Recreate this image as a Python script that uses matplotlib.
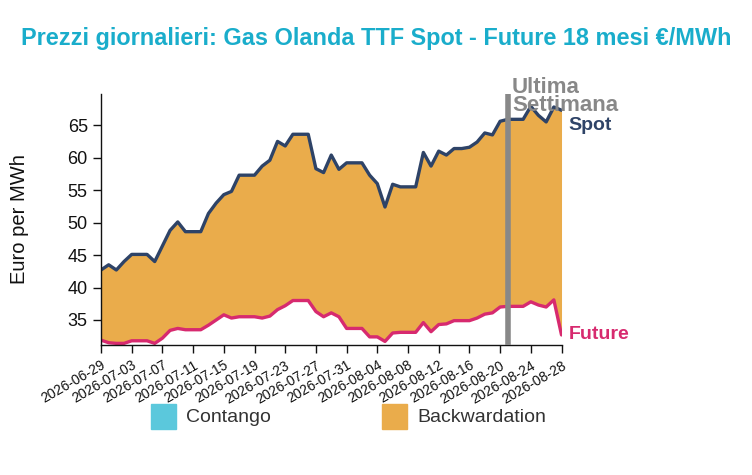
import matplotlib
matplotlib.use("Agg")
import matplotlib.pyplot as plt
import matplotlib.dates as mdates
from matplotlib.patches import Rectangle
import pandas as pd

plt.rcParams['font.family'] = ['Liberation Sans', 'DejaVu Sans']

start_date = "2026-06-29"
n_days = 61
dates = pd.date_range(start_date, periods=n_days, freq="D")

spot = [42.7, 43.5, 42.7, 44.0, 45.1, 45.1, 45.1, 44.0, 46.4, 48.8,
        50.1, 48.6, 48.6, 48.6, 51.4, 53.0, 54.3, 54.8, 57.3, 57.3,
        57.3, 58.7, 59.6, 62.5, 61.8, 63.6, 63.6, 63.6, 58.3, 57.7,
        60.4, 58.2, 59.2, 59.2, 59.2, 57.3, 56.0, 52.4, 55.9, 55.5,
        55.5, 55.5, 60.8, 58.7, 61.0, 60.4, 61.4, 61.4, 61.6, 62.4,
        63.8, 63.5, 65.6, 65.9, 65.9, 65.9, 67.9, 66.5, 65.5, 67.8,
        67.3]
future = [31.9, 31.5, 31.4, 31.4, 31.8, 31.8, 31.8, 31.4, 32.2, 33.4,
          33.7, 33.5, 33.5, 33.5, 34.2, 35.0, 35.8, 35.3, 35.5, 35.5,
          35.5, 35.3, 35.6, 36.6, 37.2, 38.0, 38.0, 38.0, 36.3, 35.5,
          36.1, 35.5, 33.7, 33.7, 33.7, 32.4, 32.4, 31.7, 33.0, 33.1,
          33.1, 33.1, 34.6, 33.2, 34.3, 34.4, 34.9, 34.9, 34.9, 35.3,
          35.9, 36.1, 37.0, 37.1, 37.1, 37.1, 37.8, 37.3, 37.0, 38.1,
          32.7]
yticks = [35, 40, 45, 50, 55, 60, 65]
last_week_start = "2026-08-21"

title = "Prezzi giornalieri: Gas Olanda TTF Spot - Future 18 mesi €/MWh"
legend_labels = ["Contango", "Backwardation"]

c_title = "#1AADCB"
c_spot = "#2E4367"
c_future = "#D72A6F"
c_back = "#EAAC4B"
c_cont = "#5BC8DC"
c_gray = "#888888"

fig = plt.figure(figsize=(7.52, 4.75), dpi=100)
ax = fig.add_axes([0.1343, 0.2737, 0.6124, 0.5284])

ax.fill_between(dates, future, spot, where=[s >= f for s, f in zip(spot, future)],
                color=c_back, linewidth=0, interpolate=True)
ax.fill_between(dates, future, spot, where=[s < f for s, f in zip(spot, future)],
                color=c_cont, linewidth=0, interpolate=True)
ax.plot(dates, spot, color=c_spot, lw=2.4, solid_joinstyle='round', solid_capstyle='round')
ax.plot(dates, future, color=c_future, lw=2.4, solid_joinstyle='round', solid_capstyle='round')

ax.set_xlim(dates[0], dates[-1])
ax.set_ylim(31.15, 69.8)
ax.set_yticks(yticks)
ax.tick_params(axis='y', labelsize=13, length=6, width=1, colors='#111111')
ax.tick_params(axis='x', labelsize=10, length=6, width=1, colors='#111111')
ax.set_xticks(dates[::4])
ax.xaxis.set_major_formatter(mdates.DateFormatter("%Y-%m-%d"))
for lab in ax.get_xticklabels():
    lab.set_rotation(30)
    lab.set_ha('right')
    lab.set_rotation_mode('anchor')
for s in ['top', 'right']:
    ax.spines[s].set_visible(False)
for s in ['left', 'bottom']:
    ax.spines[s].set_color('#111111')
    ax.spines[s].set_linewidth(1)

ax.set_ylabel("Euro per MWh", fontsize=14.5, color='#111111', labelpad=28)

lw_date = pd.Timestamp(last_week_start)
ax.axvline(lw_date, color=c_gray, lw=4, ymin=0, ymax=1, zorder=5)
ax.annotate("Ultima\nSettimana", xy=(lw_date, 1), xycoords=('data', 'axes fraction'),
            xytext=(3, 12.5), textcoords='offset points', ha='left', va='top',
            fontsize=16, fontweight='bold', color=c_gray, linespacing=0.85,
            annotation_clip=False, zorder=6)

ax.annotate("Spot", xy=(dates[-1], spot[-1]), xytext=(5, -11), textcoords='offset points',
            ha='left', va='center', fontsize=14, fontweight='bold', color=c_spot,
            annotation_clip=False)
ax.annotate("Future", xy=(dates[-1], future[-1]), xytext=(5, 0), textcoords='offset points',
            ha='left', va='center', fontsize=14, fontweight='bold', color=c_future,
            annotation_clip=False)

fig.text(0.5, 1 - 39 / 475, title, ha='center', va='center', fontsize=16.9,
         fontweight='bold', color=c_title)

# legend
for x0, col, lab in [(151, c_cont, legend_labels[0]), (382, c_back, legend_labels[1])]:
    fig.patches.append(Rectangle((x0 / 752, 1 - 429 / 475), 25 / 752, 25 / 475,
                                 transform=fig.transFigure, color=col, figure=fig))
    fig.text((x0 + 35) / 752, 1 - 417 / 475, lab, ha='left', va='center',
             fontsize=14, color='#333333')

fig.savefig("out.png", dpi=100)
